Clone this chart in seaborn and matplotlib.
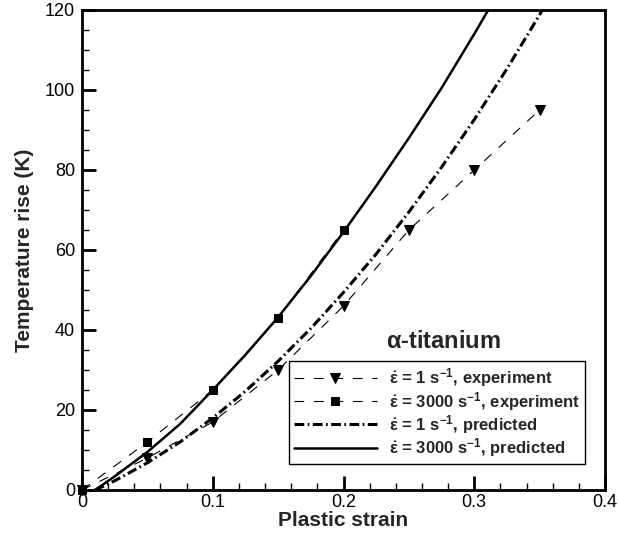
import numpy as np
import pandas as pd
import matplotlib
matplotlib.use("Agg")
import matplotlib.pyplot as plt
from matplotlib.ticker import MultipleLocator
import seaborn as sns

# Measured temperature rise (K) versus plastic strain
exp_strain_1 = [0.0, 0.05, 0.10, 0.15, 0.20, 0.25, 0.30, 0.35]
exp_temp_1 = [0, 8, 17, 30, 46, 65, 80, 95]

exp_strain_3000 = [0.0, 0.05, 0.10, 0.15, 0.20]
exp_temp_3000 = [0, 12, 25, 43, 65]

# Model predictions
pred_strain_1 = [0.01, 0.025, 0.05, 0.075, 0.10, 0.125, 0.15, 0.175, 0.20,
                 0.225, 0.25, 0.275, 0.30, 0.325, 0.35, 0.36]
pred_temp_1 = [0, 2.3, 6.8, 12.0, 18.0, 24.7, 32.2, 40.4, 49.4,
               59.0, 69.5, 80.7, 92.6, 105.3, 118.8, 124.5]

pred_strain_3000 = [0.01, 0.025, 0.05, 0.075, 0.10, 0.125, 0.15, 0.175, 0.20,
                    0.225, 0.25, 0.275, 0.30, 0.325]
pred_temp_3000 = [0, 3.4, 9.5, 16.5, 25.0, 33.8, 43.2, 53.5, 64.5,
                  76.0, 88.0, 100.5, 114.0, 128.0]

x_ticks = [0, 0.1, 0.2, 0.3, 0.4]
x_tick_labels = ["0", "0.1", "0.2", "0.3", "0.4"]
y_ticks = [0, 20, 40, 60, 80, 100, 120]

labels = [
    r"$\dot{\varepsilon}$ = 1 s$^{\mathbf{-1}}$, experiment",
    r"$\dot{\varepsilon}$ = 3000 s$^{\mathbf{-1}}$, experiment",
    r"$\dot{\varepsilon}$ = 1 s$^{\mathbf{-1}}$, predicted",
    r"$\dot{\varepsilon}$ = 3000 s$^{\mathbf{-1}}$, predicted",
]

sns.set_theme(style="white")
plt.rcParams.update({
    "font.family": ["Liberation Sans", "DejaVu Sans"],
    "mathtext.fontset": "custom",
    "mathtext.rm": "Liberation Serif",
    "mathtext.it": "Liberation Serif",
    "mathtext.bf": "Liberation Sans:bold",
    "mathtext.default": "regular",
    "axes.unicode_minus": False,
    "lines.scale_dashes": False,
    "axes.edgecolor": "black",
    "axes.linewidth": 2.0,
    "xtick.color": "black",
    "ytick.color": "black",
})

fig = plt.figure(figsize=(6.18, 5.4), dpi=100)
ax = fig.add_axes([82 / 618, 50 / 540, (605 - 82) / 618, 480 / 540])

exp_style = dict(color="black", lw=0.8, linestyle=(0, (7, 7)))

sns.lineplot(x=exp_strain_1, y=exp_temp_1, ax=ax, marker="v", ms=7,
             mec="black", mfc="black", label=labels[0], clip_on=False,
             **exp_style)
sns.lineplot(x=exp_strain_3000, y=exp_temp_3000, ax=ax, marker="s", ms=6,
             mec="black", mfc="black", label=labels[1], clip_on=False,
             **exp_style)
sns.lineplot(x=pred_strain_1, y=pred_temp_1, ax=ax, color="black", lw=2.2,
             linestyle=(0, (7, 2.5, 1.2, 2.5)), label=labels[2])
sns.lineplot(x=pred_strain_3000, y=pred_temp_3000, ax=ax, color="black",
             lw=1.8, linestyle="-", label=labels[3])

ax.set_xlim(0, 0.4)
ax.set_ylim(0, 120)
ax.set_xticks(x_ticks)
ax.set_xticklabels(x_tick_labels)
ax.set_yticks(y_ticks)
ax.xaxis.set_minor_locator(MultipleLocator(0.02))
ax.yaxis.set_minor_locator(MultipleLocator(5))
ax.tick_params(which="major", direction="in", length=10, width=2,
               labelsize=13, bottom=True, left=True, top=False, right=False)
ax.tick_params(axis="x", which="major", pad=3)
ax.tick_params(axis="y", which="major", pad=5)
ax.tick_params(which="minor", direction="in", length=5, width=1,
               bottom=True, left=True, top=False, right=False)

ax.set_xlabel("Plastic strain", fontsize=15, fontweight="bold", labelpad=0)
ax.set_ylabel("Temperature rise (K)", fontsize=15, fontweight="bold", labelpad=8)

handles, lbls = ax.get_legend_handles_labels()
leg = ax.legend(handles, lbls, loc="lower right",
                bbox_to_anchor=(585 / 618, 76 / 540),
                bbox_transform=fig.transFigure, borderaxespad=0,
                frameon=True, fancybox=False, framealpha=1, edgecolor="black",
                handlelength=5.0, handletextpad=0.7, labelspacing=0.02,
                borderpad=0.3, numpoints=1,
                prop={"weight": "bold", "size": 12})
leg.get_frame().set_linewidth(1.0)

fig.text(443 / 618, 1 - 342 / 540, r"$\alpha$-titanium", fontsize=17,
         fontweight="bold", ha="center", va="center")

fig.savefig("out.png", dpi=100)
